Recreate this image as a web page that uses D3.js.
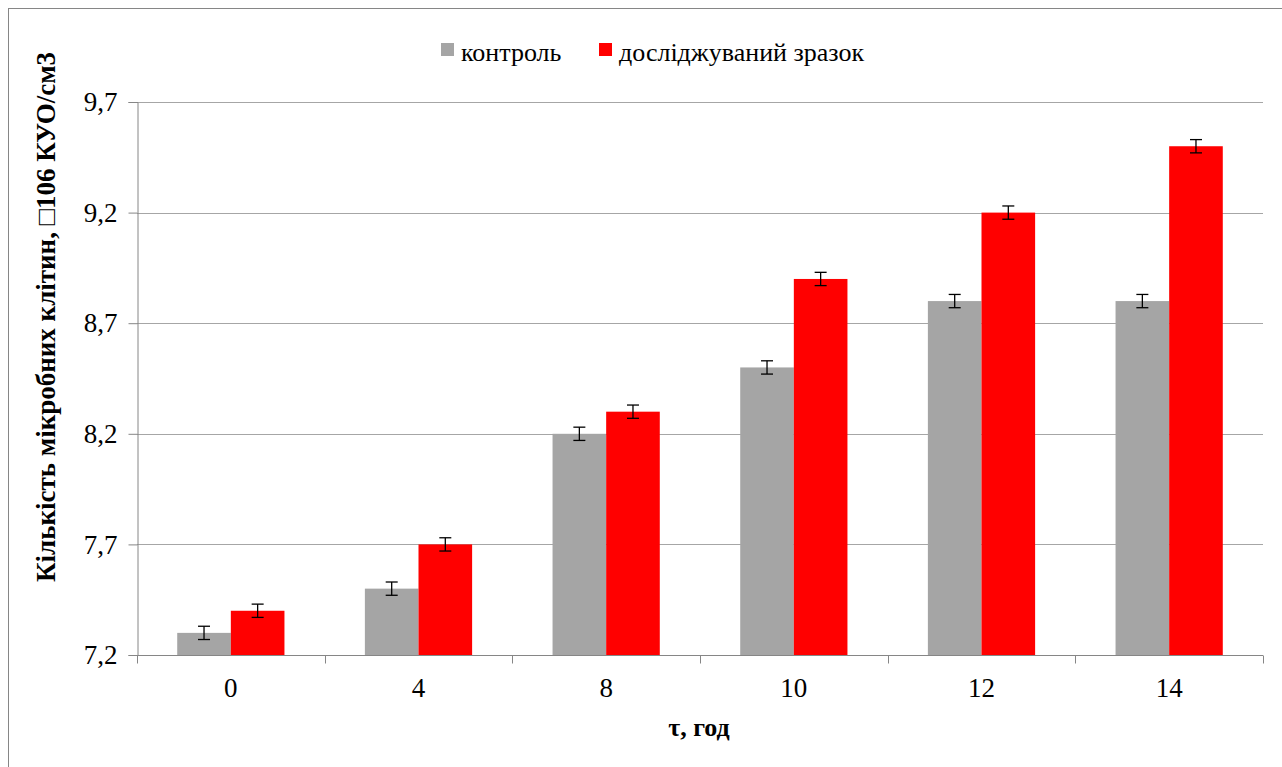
<!DOCTYPE html>
<html>
<head>
<meta charset="utf-8">
<script src="https://cdn.jsdelivr.net/npm/d3@7"></script>
<style>
  body { margin: 0; background: #fff; }
</style>
</head>
<body>
<div id="container"></div>
<script>
const width = 1282, height = 767;
const FONT = "Liberation Serif";

// дані
const categories = ["0", "4", "8", "10", "12", "14"];
const seriesNames = ["контроль", "досліджуваний зразок"];
const control = [7.3, 7.5, 8.2, 8.5, 8.8, 8.8];
const sample = [7.4, 7.7, 8.3, 8.9, 9.2, 9.5];
const errors = [0.03, 0.03, 0.03, 0.03, 0.03, 0.03];
const yTicks = [7.2, 7.7, 8.2, 8.7, 9.2, 9.7];
const colors = ["#a5a5a5", "#ff0000"];

const margin = { left: 137, right: 19, top: 102, bottom: 112 };

const svg = d3.select('#container')
    .append('svg')
    .attr('width', width)
    .attr('height', height)
    .attr('font-family', FONT)

// рамка діаграми
svg.append('rect')
    .attr('x', 8.5).attr('y', 8.5)
    .attr('width', width + 10).attr('height', height + 10)
    .attr('fill', 'none')
    .attr('stroke', '#868686')
    .attr('stroke-width', 1)

const x = d3.scaleBand()
    .domain(categories)
    .range([margin.left, width - margin.right])

const y = d3.scaleLinear()
    .domain([7.2, 9.7])
    .range([height - margin.bottom, margin.top])

// сітка
svg.append('g')
    .selectAll('line')
    .data(yTicks.slice(1))
    .enter()
    .append('line')
    .attr('x1', margin.left)
    .attr('x2', width - margin.right)
    .attr('y1', d => Math.round(y(d)) + 0.5)
    .attr('y2', d => Math.round(y(d)) + 0.5)
    .attr('stroke', '#a6a6a6')
    .attr('stroke-width', 1)

// вісь Y
const yAxis = svg.append('g')
    .attr('transform', `translate(${margin.left + 0.5},0)`)
    .call(d3.axisLeft(y).tickValues(yTicks).tickSize(9).tickPadding(11)
        .tickFormat(d => d3.format('.1f')(d).replace('.', ',')))
yAxis.attr('font-family', FONT).attr('font-size', 27)
yAxis.select('.domain').attr('stroke', '#868686')
yAxis.selectAll('.tick line').attr('stroke', '#868686')
yAxis.selectAll('.tick text').attr('fill', '#000')

// стовпці
const groupW = x.bandwidth();
const barW = groupW / 3.5;
const series = [control, sample];

series.forEach((vals, si) => {
    const g = svg.append('g')
    g.selectAll('rect')
        .data(vals)
        .enter()
        .append('rect')
        .attr('x', (d, i) => x(categories[i]) + groupW / 2 - barW + si * barW)
        .attr('y', d => y(d))
        .attr('width', barW)
        .attr('height', d => y(7.2) - y(d))
        .attr('fill', colors[si])

    // похибки
    const eg = g.selectAll('.err')
        .data(vals)
        .enter()
        .append('g')
        .attr('transform', (d, i) => `translate(${x(categories[i]) + groupW / 2 - barW / 2 + si * barW},0)`)
    eg.append('line')
        .attr('x1', 0).attr('x2', 0)
        .attr('y1', (d, i) => y(d + errors[i]))
        .attr('y2', (d, i) => y(d - errors[i]))
        .attr('stroke', '#000').attr('stroke-width', 1.3)
    eg.append('line')
        .attr('x1', -6).attr('x2', 6)
        .attr('y1', (d, i) => y(d + errors[i]))
        .attr('y2', (d, i) => y(d + errors[i]))
        .attr('stroke', '#000').attr('stroke-width', 1.3)
    eg.append('line')
        .attr('x1', -6).attr('x2', 6)
        .attr('y1', (d, i) => y(d - errors[i]))
        .attr('y2', (d, i) => y(d - errors[i]))
        .attr('stroke', '#000').attr('stroke-width', 1.3)
})

// вісь X
const baseY = Math.round(y(7.2)) + 0.5;
svg.append('line')
    .attr('x1', margin.left).attr('x2', width - margin.right)
    .attr('y1', baseY).attr('y2', baseY)
    .attr('stroke', '#868686')
const bounds = categories.map(c => x(c)).concat([width - margin.right]);
svg.append('g')
    .selectAll('line')
    .data(bounds)
    .enter()
    .append('line')
    .attr('x1', d => Math.round(d) + 0.5).attr('x2', d => Math.round(d) + 0.5)
    .attr('y1', baseY).attr('y2', baseY + 8)
    .attr('stroke', '#868686')
svg.append('g')
    .selectAll('text')
    .data(categories)
    .enter()
    .append('text')
    .attr('x', d => x(d) + groupW / 2)
    .attr('y', 697)
    .attr('text-anchor', 'middle')
    .attr('font-family', FONT)
    .attr('font-size', 27)
    .text(d => d)

// підписи осей
svg.append('text')
    .attr('x', 699).attr('y', 736)
    .attr('text-anchor', 'middle')
    .attr('font-family', FONT)
    .attr('font-size', 26)
    .attr('font-weight', 'bold')
    .text('τ, год')

svg.append('text')
    .attr('transform', 'translate(55,317) rotate(-90)')
    .attr('text-anchor', 'middle')
    .attr('font-family', FONT)
    .attr('font-size', 27)
    .attr('font-weight', 'bold')
    .text('Кількість мікробних клітин, \u25A1106 КУО/см3')

// легенда
const legend = svg.append('g')
const lx = [441, 599];
seriesNames.forEach((name, i) => {
    legend.append('rect')
        .attr('x', lx[i]).attr('y', 43)
        .attr('width', 13).attr('height', 13)
        .attr('fill', colors[i])
    legend.append('text')
        .attr('x', lx[i] + 20).attr('y', 61)
        .attr('font-family', FONT)
        .attr('font-size', 26)
        .text(name)
})
</script>
</body>
</html>
